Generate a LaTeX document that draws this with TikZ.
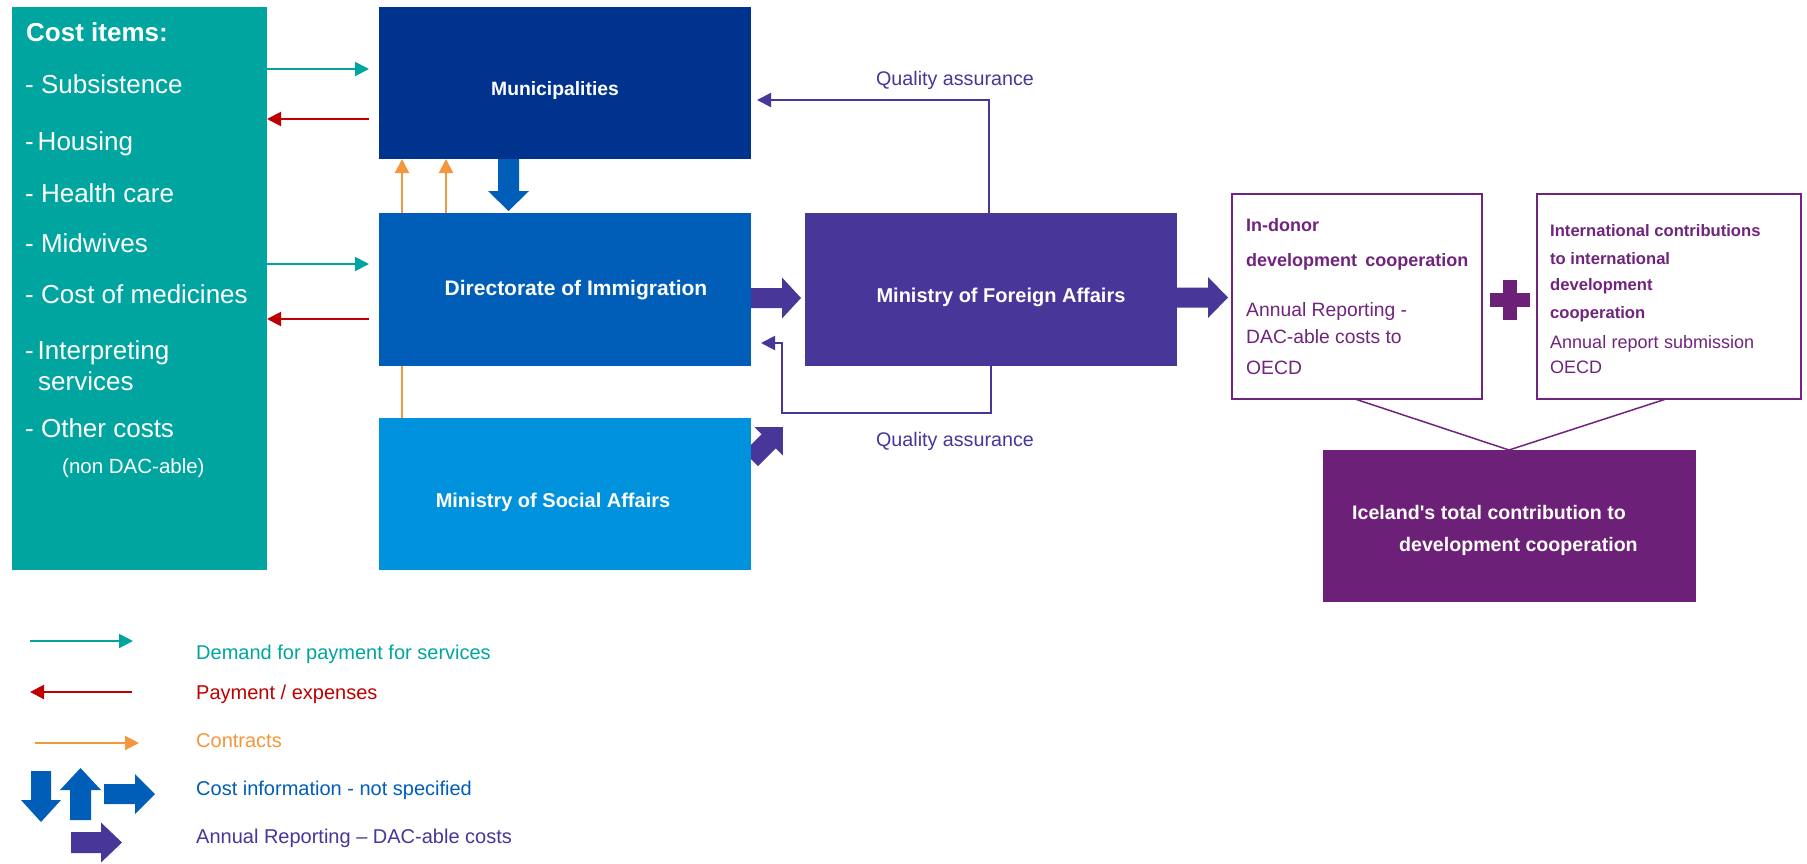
\documentclass[tikz,border=0pt]{standalone}
\usepackage{fontspec}
\setmainfont{Liberation Sans}
\usetikzlibrary{arrows.meta,calc,backgrounds}
\definecolor{cteal}{RGB}{0,165,160}
\definecolor{cnavy}{RGB}{0,51,141}
\definecolor{cdir}{RGB}{0,94,184}
\definecolor{cmsa}{RGB}{0,146,221}
\definecolor{cmfa}{RGB}{72,54,152}
\definecolor{cice}{RGB}{109,32,119}
\definecolor{cred}{RGB}{192,0,0}
\definecolor{corange}{RGB}{244,150,60}
\definecolor{cblue}{RGB}{0,94,184}
\definecolor{cpurp}{RGB}{112,36,125}
\newcommand\myfs[1]{\fontsize{#1}{#1}\selectfont}
\newcommand\blockarrow[7]{\begin{scope}[shift={(#1)},rotate=#2]
\fill[#7] (0,-#5) -- ({#3-#4},-#5) -- ({#3-#4},-#6) -- (#3,0) -- ({#3-#4},#6) -- ({#3-#4},#5) -- (0,#5) -- cycle;
\end{scope}}
\begin{document}
\begin{tikzpicture}[x=1pt,y=-1pt,
  box/.style={rectangle, inner sep=0pt, outer sep=0pt, anchor=north west, draw=none},
  wlbl/.style={text=white, inner sep=0pt, anchor=base, font=\bfseries\myfs{20}},
  ctxt/.style={text=white, inner sep=0pt, anchor=base west, font=\myfs{26}},
  ptxt/.style={text=cpurp, inner sep=0pt, anchor=base west},
  ltxt/.style={inner sep=0pt, anchor=base west, font=\myfs{20}},
  arr/.style={line width=2pt, -{Triangle[length=14pt,width=14pt]}},
  tealarr/.style={arr, draw=cteal},
  redarr/.style={arr, draw=cred},
  orarr/.style={arr, draw=corange},
  qa/.style={arr, draw=cmfa},
  joinline/.style={draw=cpurp, line width=1.5pt}]
\useasboundingbox (0,0) rectangle (1807,863);
\begin{scope}[on background layer]
\fill[white] (0,0) rectangle (1807,863);
\end{scope}

% boxes
\node[box, fill=cteal, minimum width=255pt, minimum height=563pt] (cost) at (12,7) {};
\node[box, fill=cnavy, minimum width=372pt, minimum height=152pt] (mun) at (379,7) {};
\node[box, fill=cdir, minimum width=372pt, minimum height=153pt] (dir) at (379,213) {};
\node[box, fill=cmsa, minimum width=372pt, minimum height=152pt] (msa) at (379,418) {};
\node[box, fill=cmfa, minimum width=372pt, minimum height=153pt] (mfa) at (805,213) {};
\node[box, draw=cpurp, line width=1.5pt, minimum width=250pt, minimum height=205pt] (indonor) at (1232,194) {};
\node[box, draw=cpurp, line width=1.5pt, minimum width=264pt, minimum height=205pt] (intl) at (1537,194) {};
\node[box, fill=cice, minimum width=373pt, minimum height=152pt] (ice) at (1323,450) {};

% cost items text
\node[ctxt, font=\bfseries\myfs{26}] (t0) at (26,41) {Cost items:};
\node[ctxt] (t1) at (25,93) {- Subsistence};
\node[ctxt] (t2) at (25,150) {-\hspace{0.15em}Housing};
\node[ctxt] (t3) at (25,202) {- Health care};
\node[ctxt] (t4) at (25,252) {- Midwives};
\node[ctxt] (t5) at (25,303) {- Cost of medicines};
\node[ctxt] (t6) at (25,359) {-\hspace{0.15em}Interpreting};
\node[ctxt] (t7) at (38,390) {services};
\node[ctxt] (t8) at (25,437) {- Other costs};
\node[ctxt, font=\myfs{20.5}] (t9) at (62,473) {(non DAC-able)};

% box labels
\node[wlbl, font=\bfseries\myfs{19.3}] (munT) at (555,95) {Municipalities};
\node[wlbl, font=\bfseries\myfs{21}] (dirT) at (576,295) {Directorate of Immigration};
\node[wlbl] (msaT) at (553,507) {Ministry of Social Affairs};
\node[wlbl] (mfaT) at (1001,302) {Ministry of Foreign Affairs};
\node[wlbl, anchor=base west, font=\bfseries\myfs{19.6}] (iceT1) at (1352,519) {Iceland\textquotesingle s total contribution to};
\node[wlbl, anchor=base west, font=\bfseries\myfs{19.6}] (iceT2) at (1399,551) {development cooperation};

% in-donor box text
\node[ptxt, font=\bfseries\myfs{18}] (id1) at (1246,231) {In-donor};
\node[ptxt, font=\bfseries\myfs{18}] (id2) at (1246,266) {development\hspace{0.45em}cooperation};
\node[ptxt, font=\myfs{19.3}] (id3) at (1246,316) {Annual Reporting -};
\node[ptxt, font=\myfs{19.3}] (id4) at (1246,343) {DAC-able costs to};
\node[ptxt, font=\myfs{19.3}] (id5) at (1246,374) {OECD};

% international box text
\node[ptxt, font=\bfseries\myfs{16.6}] (in1) at (1550,236) {International contributions};
\node[ptxt, font=\bfseries\myfs{16.6}] (in2) at (1550,264) {to international};
\node[ptxt, font=\bfseries\myfs{16.6}] (in3) at (1550,290) {development};
\node[ptxt, font=\bfseries\myfs{16.6}] (in4) at (1550,318) {cooperation};
\node[ptxt, font=\myfs{18}] (in5) at (1550,348) {Annual\hspace{0.3em}report\hspace{0.3em}submission};
\node[ptxt, font=\myfs{18}] (in6) at (1550,373) {OECD};

% plus sign
\fill[cice] (1490,293) rectangle (1530,307);
\fill[cice] (1503,280) rectangle (1517,320);

% quality assurance labels
\node[inner sep=0pt, anchor=base, text=cmfa, font=\myfs{19.7}] (qaT1) at (955,85) {Quality assurance};
\node[inner sep=0pt, anchor=base, text=cmfa, font=\myfs{19.7}] (qaT2) at (955,446) {Quality assurance};

% helper coordinates
\coordinate (r1) at (0,69);
\coordinate (r2) at (0,119);
\coordinate (r3) at (0,264);
\coordinate (r4) at (0,319);
\coordinate (o1) at (402,0);
\coordinate (o2) at (446,0);
\coordinate (q1) at (989,0);
\coordinate (qy1) at (0,100);
\coordinate (q2) at (991,0);
\coordinate (qc) at (782,413);
\coordinate (qy3) at (0,343);
\coordinate (l1) at (1355,0);
\coordinate (l2) at (1666,0);
\coordinate (lm) at (1509,0);

% connectors behind boxes
\begin{scope}[on background layer]
\draw[orarr] (msa.north -| o1) -- (mun.south -| o1);
\blockarrow{$(msa.north east)+(0,41)$}{45}{45}{20}{10}{20}{cmfa}
\end{scope}
\draw[orarr] (dir.north -| o2) -- (mun.south -| o2);
\blockarrow{$(mun.south)+(-56.5,0)$}{-90}{52}{20}{10.5}{20.5}{cblue}
\blockarrow{$(dir.east)+(0,8.5)$}{0}{50}{19}{10}{20.5}{cmfa}
\blockarrow{$(mfa.east)+(0,8)$}{0}{51}{20}{10}{20.5}{cmfa}

% thin arrows
\draw[tealarr, shorten >=10pt] (cost.east |- r1) -- (mun.west |- r1);
\draw[redarr, shorten <=10pt] (mun.west |- r2) -- (cost.east |- r2);
\draw[tealarr, shorten >=10pt] (cost.east |- r3) -- (dir.west |- r3);
\draw[redarr, shorten <=10pt] (dir.west |- r4) -- (cost.east |- r4);
\draw[qa, shorten >=6pt] (mfa.north -| q1) |- (mun.east |- qy1);
\draw[qa, shorten >=10pt] (mfa.south -| q2) |- (qc) |- (dir.east |- qy3);

% join lines
\draw[joinline] (indonor.south -| l1) -- (ice.north -| lm);
\draw[joinline] (intl.south -| l2) -- (ice.north -| lm);

% legend
\coordinate (la1) at (30,641); \coordinate (la2) at (133,641);
\coordinate (lb1) at (132,692); \coordinate (lb2) at (30,692);
\coordinate (lc1) at (35,743); \coordinate (lc2) at (139,743);
\draw[tealarr] (la1) -- (la2);
\draw[redarr] (lb1) -- (lb2);
\draw[orarr] (lc1) -- (lc2);
\blockarrow{41,771}{-90}{51}{22}{10}{20}{cblue}
\blockarrow{80.5,820}{90}{52}{22}{10.5}{20.5}{cblue}
\blockarrow{104,794}{0}{51}{20}{10}{20}{cblue}
\blockarrow{71,842.5}{0}{51}{21}{10.5}{20}{cmfa}
\node[ltxt, text=cteal] (lg1) at (196,659) {Demand for payment for services};
\node[ltxt, text=cred] (lg2) at (196,699) {Payment / expenses};
\node[ltxt, text=corange] (lg3) at (196,747) {Contracts};
\node[ltxt, text=cblue] (lg4) at (196,795) {Cost information - not specified};
\node[ltxt, text=cmfa] (lg5) at (196,843) {Annual Reporting – DAC-able costs};
\end{tikzpicture}
\end{document}
